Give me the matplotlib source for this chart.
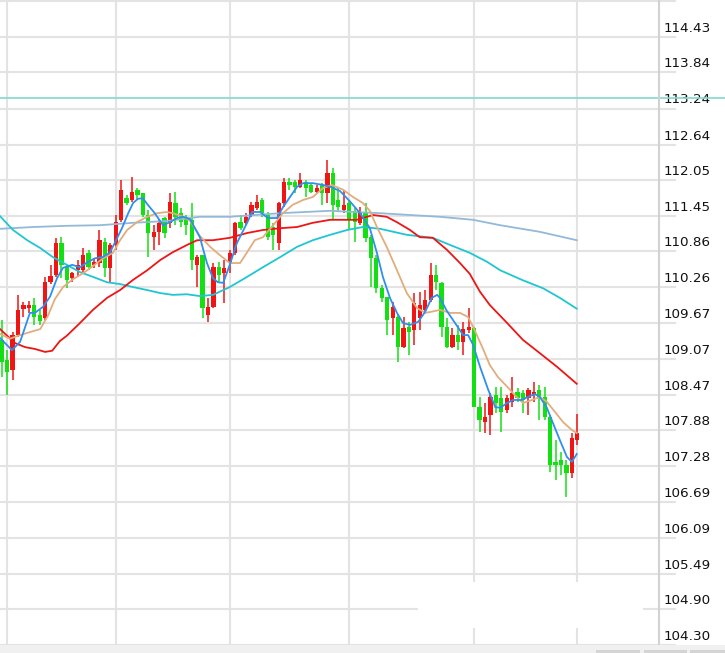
import matplotlib
matplotlib.use("Agg")
import matplotlib.pyplot as plt
from matplotlib.patches import Rectangle
import numpy as np

# daily candles, red = close above open, green = close below open
opens = [109.22, 108.89, 108.72, 109.30, 109.74, 109.75, 109.80, 109.64, 109.59, 110.18,
         110.30, 110.83, 110.43, 110.25, 110.38, 110.38, 110.67, 110.47, 110.50, 110.85,
         110.42, 110.80, 111.22, 111.58, 111.55, 111.72, 111.67, 111.30, 110.93, 111.02,
         111.25, 111.17, 111.50, 111.33, 111.27, 111.22, 110.47, 110.63, 109.64, 109.77,
         110.43, 110.33, 110.52, 110.67, 111.18, 111.17, 111.30, 111.42, 111.55, 111.30,
         111.10, 110.83, 111.50, 111.85, 111.85, 111.77, 111.85, 111.80, 111.68, 111.80,
         111.67, 112.00, 111.55, 111.38, 111.50, 111.35, 111.17, 111.35, 110.93, 110.58,
         110.08, 109.93, 109.59, 109.60, 109.10, 109.44, 109.39, 109.59, 109.72, 109.89,
         110.30, 110.17, 109.43, 109.10, 109.30, 109.18, 109.39, 109.42, 108.10, 107.85,
         107.97, 108.30, 108.25, 108.05, 108.19, 108.35, 108.34, 108.25, 108.30, 108.39,
         108.27, 107.94, 107.19, 107.22, 107.14, 107.00, 107.55]
highs = [109.55, 109.05, 109.35, 109.97, 109.85, 109.87, 109.92, 109.72, 110.27, 110.47,
         110.92, 110.93, 110.47, 110.35, 110.55, 110.75, 110.72, 110.58, 111.05, 110.92,
         110.83, 111.30, 111.88, 111.63, 111.93, 111.75, 111.67, 111.38, 111.13, 111.22,
         111.27, 111.67, 111.68, 111.42, 111.30, 111.50, 110.63, 110.63, 109.92, 110.50,
         110.52, 110.55, 110.72, 111.18, 111.30, 111.33, 111.52, 111.63, 111.58, 111.35,
         111.17, 111.52, 111.92, 111.92, 111.88, 112.00, 111.88, 111.83, 111.80, 111.83,
         112.22, 112.08, 111.77, 111.72, 111.55, 111.42, 111.43, 111.50, 110.97, 110.63,
         110.13, 109.93, 109.85, 109.64, 109.60, 109.52, 110.00, 110.02, 110.05, 110.50,
         110.47, 110.18, 109.59, 109.42, 109.47, 109.52, 109.75, 109.44, 108.27, 108.17,
         108.34, 108.44, 108.44, 108.30, 108.60, 108.42, 108.39, 108.42, 108.52, 108.47,
         108.44, 107.97, 107.55, 107.35, 107.22, 107.67, 107.99]
lows = [108.60, 108.30, 108.55, 109.27, 109.60, 109.67, 109.47, 109.47, 109.55, 110.15,
        110.27, 110.25, 110.08, 110.18, 110.27, 110.35, 110.38, 110.42, 110.43, 110.27,
        110.18, 110.72, 111.18, 111.47, 111.52, 111.55, 111.27, 110.60, 110.72, 110.80,
        110.92, 111.08, 111.13, 111.10, 110.97, 110.38, 110.10, 109.59, 109.52, 109.75,
        110.17, 109.84, 110.33, 110.63, 111.05, 111.13, 111.27, 111.38, 111.27, 110.88,
        110.72, 110.72, 111.43, 111.72, 111.67, 111.75, 111.60, 111.67, 111.67, 111.47,
        111.50, 111.22, 111.35, 111.33, 111.05, 110.85, 111.13, 110.85, 110.10, 110.00,
        109.85, 109.30, 109.30, 108.85, 109.09, 108.97, 109.14, 109.39, 109.67, 109.85,
        110.05, 109.27, 109.09, 109.09, 109.05, 108.97, 109.34, 108.10, 107.69, 107.67,
        107.64, 108.00, 107.69, 108.00, 108.10, 108.19, 108.00, 107.97, 108.19, 107.89,
        107.89, 107.02, 106.89, 106.97, 106.61, 106.92, 107.47]
closes = [108.85, 108.69, 109.30, 109.72, 109.80, 109.80, 109.60, 109.54, 110.18, 110.28,
          110.83, 110.47, 110.22, 110.33, 110.47, 110.63, 110.43, 110.52, 110.88, 110.42,
          110.80, 111.18, 111.72, 111.50, 111.68, 111.63, 111.30, 111.00, 111.02, 111.17,
          111.00, 111.52, 111.27, 111.18, 111.13, 110.55, 110.60, 109.75, 109.77, 110.43,
          110.30, 110.42, 110.67, 111.17, 111.08, 111.27, 111.47, 111.52, 111.33, 110.93,
          110.97, 111.50, 111.85, 111.80, 111.77, 111.88, 111.75, 111.68, 111.75, 111.67,
          112.00, 111.47, 111.43, 111.47, 111.22, 111.18, 111.33, 110.92, 110.58, 110.08,
          109.92, 109.55, 109.77, 109.10, 109.42, 109.35, 109.83, 109.80, 109.89, 110.30,
          110.18, 109.43, 109.10, 109.30, 109.18, 109.40, 109.44, 108.10, 107.89, 107.94,
          108.27, 108.17, 108.02, 108.25, 108.34, 108.25, 108.22, 108.39, 108.35, 108.27,
          107.94, 107.14, 107.14, 107.14, 107.00, 107.59, 107.67]

# moving averages (x = candle number)
ma_blue_x = [-0.3, 1.9, 3.4, 5.2, 6.1, 7.6, 8.9, 10.2, 11.3, 13.0, 14.4, 15.9, 17.2, 18.6,
             19.9, 20.9, 22.2, 23.3, 24.2, 25.1, 26.0, 26.9, 28.2, 29.7, 31.0, 32.3, 33.4,
             34.7, 36.5, 37.8, 38.9, 39.8, 40.8, 42.0, 43.3, 45.2, 46.1, 47.6, 49.0, 50.7,
             51.8, 53.1, 54.4, 55.5, 57.3, 59.2, 60.5, 62.3, 64.1, 66.0, 67.8, 69.1, 70.2,
             71.5, 72.8, 73.9, 75.2, 76.7, 78.0, 79.2, 80.2, 80.7, 82.0, 83.5, 85.0, 85.9,
             86.8, 88.1, 89.6, 90.9, 91.8, 93.1, 94.2, 95.8, 96.9, 98.2, 99.1, 100.4, 101.5,
             102.8, 104.1, 105.0, 105.9]
ma_blue = [109.25, 109.05, 109.19, 109.67, 109.67, 109.77, 109.94, 110.25, 110.42, 110.47,
           110.43, 110.52, 110.58, 110.60, 110.67, 110.85, 111.09, 111.33, 111.50, 111.57,
           111.58, 111.47, 111.33, 111.13, 111.18, 111.25, 111.27, 111.23, 110.93, 110.50,
           110.25, 110.18, 110.17, 110.47, 110.83, 111.17, 111.35, 111.35, 111.25, 111.25,
           111.43, 111.60, 111.77, 111.83, 111.83, 111.80, 111.77, 111.70, 111.53, 111.33,
           111.08, 110.67, 110.27, 109.92, 109.67, 109.50, 109.47, 109.52, 109.69, 109.92,
           109.97, 109.92, 109.70, 109.50, 109.30, 109.30, 109.14, 108.77, 108.39, 108.10,
           108.09, 108.17, 108.22, 108.22, 108.27, 108.32, 108.27, 108.09, 107.84, 107.55,
           107.27, 107.19, 107.32]

ma_tan_x = [-0.3, 1.5, 3.4, 5.2, 7.1, 8.5, 9.8, 11.3, 13.1, 15.0, 16.8, 18.7, 20.5, 21.8,
            23.1, 24.9, 26.8, 28.6, 30.4, 31.5, 33.2, 34.7, 36.5, 38.4, 40.2, 42.0, 43.9,
            45.2, 46.6, 48.1, 50.0, 51.8, 53.6, 55.5, 57.3, 59.2, 60.8, 62.9, 64.7, 66.5,
            67.8, 69.1, 70.9, 72.8, 74.6, 76.5, 78.0, 79.2, 80.7, 82.6, 84.4, 85.9, 86.8,
            88.5, 89.9, 91.4, 93.1, 94.5, 96.0, 97.7, 99.1, 100.4, 101.9, 103.4, 105.0, 105.9]
ma_tan = [109.32, 109.24, 109.30, 109.35, 109.40, 109.62, 109.90, 110.10, 110.23, 110.33,
          110.45, 110.58, 110.67, 110.88, 111.05, 111.18, 111.27, 111.33, 111.35, 111.33,
          111.28, 111.20, 110.95, 110.77, 110.63, 110.50, 110.50, 110.68, 110.88, 110.93,
          111.13, 111.33, 111.47, 111.55, 111.60, 111.75, 111.80, 111.72, 111.60, 111.50,
          111.37, 111.10, 110.77, 110.38, 110.00, 109.75, 109.67, 109.69, 109.72, 109.67,
          109.67, 109.60, 109.44, 109.10, 108.80, 108.60, 108.44, 108.30, 108.17, 108.22,
          108.27, 108.19, 108.02, 107.85, 107.72, 107.67]

ma_red_x = [-0.3, 1.0, 2.4, 4.3, 6.1, 8.0, 9.3, 10.7, 12.0, 14.4, 16.8, 19.4, 21.8, 24.2,
            26.8, 29.2, 31.5, 34.1, 36.0, 38.9, 42.0, 45.2, 48.1, 51.3, 54.4, 57.3, 60.5,
            63.6, 65.4, 68.4, 70.9, 72.8, 75.2, 77.0, 79.4, 82.0, 84.4, 86.2, 88.1, 89.9,
            93.1, 96.0, 99.1, 102.3, 105.9]
ma_red = [109.40, 109.29, 109.17, 109.10, 109.07, 109.02, 109.04, 109.20, 109.29, 109.50,
          109.72, 109.92, 110.05, 110.22, 110.38, 110.55, 110.68, 110.80, 110.88, 110.88,
          110.92, 111.00, 111.05, 111.08, 111.10, 111.17, 111.22, 111.22, 111.22, 111.30,
          111.27, 111.18, 111.05, 110.93, 110.92, 110.72, 110.50, 110.32, 110.02, 109.80,
          109.50, 109.22, 109.00, 108.77, 108.49]

ma_cyan_x = [-0.3, 2.1, 4.7, 7.1, 9.4, 12.0, 14.4, 16.8, 19.4, 21.8, 24.2, 26.8, 29.2, 31.5,
             34.1, 36.5, 38.9, 42.0, 45.2, 48.1, 51.3, 54.4, 57.3, 60.5, 63.6, 66.5, 69.7,
             74.6, 79.4, 82.6, 86.2, 89.4, 91.8, 95.8, 99.7, 102.8, 105.9]
ma_cyan = [111.28, 111.05, 110.88, 110.75, 110.60, 110.47, 110.35, 110.27, 110.18, 110.15,
           110.10, 110.05, 110.00, 109.97, 109.98, 109.95, 109.97, 110.10, 110.27, 110.43,
           110.60, 110.77, 110.88, 110.97, 111.05, 111.10, 111.07, 110.97, 110.92, 110.80,
           110.67, 110.52, 110.38, 110.22, 110.08, 109.92, 109.74]

ma_steel_x = [-0.3, 5.8, 12.0, 18.1, 24.2, 30.4, 36.5, 42.0, 51.3, 60.5, 69.7, 80.7, 86.8,
              91.8, 99.1, 105.9]
ma_steel = [111.07, 111.10, 111.12, 111.13, 111.17, 111.20, 111.27, 111.27, 111.33, 111.37,
            111.33, 111.27, 111.22, 111.13, 111.02, 110.88]

price_ticks = [114.43, 113.84, 113.24, 112.64, 112.05, 111.45, 110.86, 110.26, 109.67,
               109.07, 108.47, 107.88, 107.28, 106.69, 106.09, 105.49, 104.90, 104.30]
month_starts = [1, 21, 42, 64, 87, 106]
ref_level = 113.24

fig = plt.figure(figsize=(7.25, 6.53), dpi=100)
fig.patch.set_facecolor('white')
ax = fig.add_axes([0, 8 / 653, 659 / 725, 645 / 653])
ax.set_facecolor('white')
ax.set_xlim(-0.31, 121.05)
ax.set_ylim(104.14, 114.88)

grid_c = '#e3e3e3'
grid_off = 0.167   # grid lines sit a little under the price labels
ytr = ax.get_yaxis_transform()
for d in month_starts:
    ax.axvline(d, color=grid_c, lw=1.5, zorder=0)
for v in price_ticks + [price_ticks[0] + 0.6]:
    ax.plot([0, 1.024], [v - grid_off] * 2, transform=ytr, color=grid_c, lw=1.5,
            clip_on=False, zorder=0)

# leftover white patch near the bottom right
ax.add_patch(Rectangle((418 / 659, 17 / 645), 225 / 659, 46 / 645, transform=ax.transAxes,
                       facecolor='white', edgecolor='none', zorder=1))

ax.plot([0, 725 / 659], [ref_level] * 2, transform=ytr, color='#82d9cf', lw=1.2,
        clip_on=False, zorder=2)

o = np.array(opens)
c = np.array(closes)
idx = np.arange(len(o))
col = np.where(c >= o, '#f01414', '#12e012')
ax.vlines(idx, lows, highs, colors=col, lw=1.1, zorder=3)
ax.bar(idx, np.maximum(np.abs(c - o), 0.025), bottom=np.minimum(o, c), width=0.78,
       color=col, linewidth=0, zorder=3)

ax.plot(ma_steel_x, ma_steel, color='#93b9d9', lw=1.3, zorder=4)
ax.plot(ma_cyan_x, ma_cyan, color='#1fc6d2', lw=1.3, zorder=4)
ax.plot(ma_red_x, ma_red, color='#ee1515', lw=1.3, zorder=4)
ax.plot(ma_tan_x, ma_tan, color='#e2ad7c', lw=1.3, zorder=4)
ax.plot(ma_blue_x, ma_blue, color='#2f8ff0', lw=1.3, zorder=5)

ax.set_xticks([])
ax.yaxis.tick_right()
ax.set_yticks(price_ticks)
ax.set_yticklabels([f'{v:.2f}' for v in price_ticks])
ax.tick_params(axis='y', length=0, pad=3, labelsize=9.7, labelcolor='#111111')
for s in ['top', 'left', 'bottom']:
    ax.spines[s].set_visible(False)
ax.spines['right'].set_color('#d2d2d2')
ax.spines['right'].set_linewidth(1.5)

# scroll strip along the bottom
fig.add_artist(Rectangle((0, 0), 1, 8 / 653, transform=fig.transFigure,
                         facecolor='#f0f0f0', edgecolor='none'))
for x0, w in [(596, 44), (644, 43), (690, 35)]:
    fig.add_artist(Rectangle((x0 / 725, 0), w / 725, 3 / 653, transform=fig.transFigure,
                             facecolor='#d4d4d4', edgecolor='none'))

fig.savefig('out.png', dpi=100)
